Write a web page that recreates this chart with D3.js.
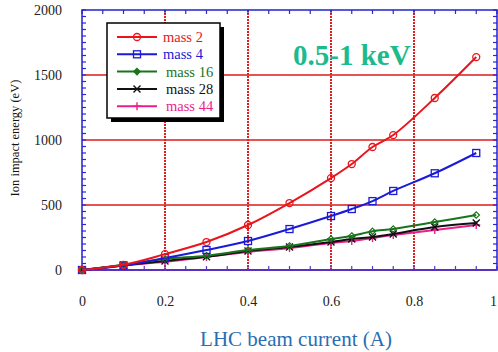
<!DOCTYPE html>
<html>
<head>
<meta charset="utf-8">
<script src="https://cdn.jsdelivr.net/npm/d3@7"></script>
<style>
  html, body { margin: 0; padding: 0; background: #fff; }
  svg { display: block; }
  text { font-family: "Liberation Serif", "Times New Roman", serif; }
</style>
</head>
<body>
<svg id="chart" width="498" height="352"></svg>
<script>
// Beam current (A) at which each impact energy was computed
const current = [0, 0.1, 0.2, 0.3, 0.4, 0.5, 0.6, 0.65, 0.7, 0.75, 0.85, 0.95];

// Ion impact energy (eV) per ion mass
const mass2  = [0, 40, 122, 215, 346, 515, 707, 815, 946, 1038, 1323, 1638];
const mass4  = [0, 35, 92, 154, 223, 315, 415, 469, 530, 608, 744, 900];
const mass16 = [0, 40, 85, 110, 154, 185, 238, 262, 298, 315, 369, 423];
const mass28 = [0, 36, 70, 102, 146, 177, 215, 238, 254, 277, 331, 362];
const mass44 = [0, 35, 63, 100, 138, 169, 208, 223, 246, 269, 308, 346];

const seriesNames = ["mass 2", "mass 4", "mass 16", "mass 28", "mass 44"];
const seriesValues = [mass2, mass4, mass16, mass28, mass44];
const seriesColors = ["#e8161c", "#1a1ad8", "#19741c", "#111111", "#ec1e8c"];
const seriesMarkers = ["circle", "square", "diamond", "cross", "plus"];

const xTicks = [0, 0.2, 0.4, 0.6, 0.8, 1];
const xTickLabels = ["0", "0.2", "0.4", "0.6", "0.8", "1"];
const yTicks = [0, 500, 1000, 1500, 2000];

const svg = d3.select("#chart");
const plot = { left: 82, right: 497, top: 10, bottom: 270 };

const x = d3.scaleLinear().domain([0, 1]).range([plot.left, plot.right]);
const y = d3.scaleLinear().domain([0, 2000]).range([plot.bottom, plot.top]);

// Horizontal grid (solid) and vertical grid (dense dashes)
svg.append("g").selectAll("line")
  .data(yTicks.filter(v => v > 0 && v < 2000))
  .join("line")
  .attr("x1", plot.left).attr("x2", plot.right)
  .attr("y1", d => y(d)).attr("y2", d => y(d))
  .attr("stroke", "#dd1a1a").attr("stroke-width", 1.4);

svg.append("g").selectAll("line")
  .data(xTicks.filter(v => v > 0 && v < 1))
  .join("line")
  .attr("x1", d => x(d)).attr("x2", d => x(d))
  .attr("y1", plot.top).attr("y2", plot.bottom)
  .attr("stroke", "#e02020").attr("stroke-width", 2)
  .attr("stroke-dasharray", "2,1");

// Minor ticks, pointing into the plot on all four sides
const xMinor = d3.range(0, 1.0001, 0.05);
const yMinor = d3.range(0, 2000.1, 50);
const tickLen = 4;
const ticks = svg.append("g").attr("stroke", "#2a2ad0").attr("stroke-width", 1.2);
xMinor.forEach(v => {
  ticks.append("line").attr("x1", x(v)).attr("x2", x(v))
    .attr("y1", plot.bottom).attr("y2", plot.bottom - tickLen).attr("stroke", "#5a34c4");
  ticks.append("line").attr("x1", x(v)).attr("x2", x(v))
    .attr("y1", plot.top).attr("y2", plot.top + tickLen);
});
yMinor.forEach(v => {
  ticks.append("line").attr("x1", plot.left).attr("x2", plot.left + tickLen)
    .attr("y1", y(v)).attr("y2", y(v));
  ticks.append("line").attr("x1", plot.right).attr("x2", plot.right - tickLen)
    .attr("y1", y(v)).attr("y2", y(v));
});

// Plot frame
svg.append("rect")
  .attr("x", plot.left).attr("y", plot.top)
  .attr("width", plot.right - plot.left).attr("height", plot.bottom - plot.top)
  .attr("fill", "none").attr("stroke", "#2222cc").attr("stroke-width", 1.5);
svg.append("line")
  .attr("x1", plot.left).attr("x2", plot.right)
  .attr("y1", plot.bottom).attr("y2", plot.bottom)
  .attr("stroke", "#5a30c2").attr("stroke-width", 2);

// Axes labels via d3 axes (lines hidden; frame drawn above)
const yAxis = svg.append("g")
  .attr("transform", `translate(${plot.left},0)`)
  .call(d3.axisLeft(y).tickValues(yTicks).tickSize(0).tickPadding(20).tickFormat(d3.format("d")));
yAxis.select(".domain").remove();
yAxis.selectAll("text")
  .attr("font-family", "Liberation Serif, serif").attr("font-size", 14)
  .attr("fill", "#222");

const xAxis = svg.append("g")
  .attr("transform", `translate(0,${plot.bottom})`)
  .call(d3.axisBottom(x).tickValues(xTicks).tickSize(0).tickPadding(26)
    .tickFormat((d, i) => xTickLabels[i]));
xAxis.select(".domain").remove();
xAxis.selectAll("text")
  .attr("font-family", "Liberation Serif, serif").attr("font-size", 14)
  .attr("fill", "#222");
// the last label sits at the page edge: keep it fully inside
xAxis.selectAll("text").filter(d => d === 1)
  .attr("text-anchor", "end").attr("dx", -0.5);

// Axis titles
svg.append("text")
  .attr("transform", "translate(19,138) rotate(-90)")
  .attr("text-anchor", "middle")
  .attr("font-size", 12.5).attr("fill", "#111")
  .text("Ion impact energy (eV)");

svg.append("text")
  .attr("x", 296).attr("y", 346)
  .attr("text-anchor", "middle")
  .attr("font-size", 21).attr("fill", "#2a6db3")
  .text("LHC beam current (A)");

// Series lines and markers
const line = d3.line()
  .x(d => x(d[0])).y(d => y(d[1]))
  .curve(d3.curveCatmullRom.alpha(0.5));

function drawMarker(g, type, color, cx, cy, legend) {
  if (type === "circle") {
    g.append("circle").attr("cx", cx).attr("cy", cy).attr("r", 3.5)
      .attr("fill", "none").attr("stroke", color).attr("stroke-width", 1.3);
  } else if (type === "square") {
    g.append("rect").attr("x", cx - 3.5).attr("y", cy - 3.5)
      .attr("width", 7).attr("height", 7)
      .attr("fill", "none").attr("stroke", color).attr("stroke-width", 1.3);
  } else if (type === "diamond") {
    const s = 3.2;
    g.append("path")
      .attr("d", `M${cx},${cy - s}L${cx + s},${cy}L${cx},${cy + s}L${cx - s},${cy}Z`)
      .attr("fill", legend ? color : "none").attr("stroke", color).attr("stroke-width", 1.2);
  } else if (type === "cross") {
    const s = 3.5;
    g.append("path")
      .attr("d", `M${cx - s},${cy - s}L${cx + s},${cy + s}M${cx - s},${cy + s}L${cx + s},${cy - s}`)
      .attr("stroke", color).attr("stroke-width", 1.4);
  } else if (type === "plus") {
    const s = 4;
    g.append("path")
      .attr("d", `M${cx - s},${cy}L${cx + s},${cy}M${cx},${cy - s}L${cx},${cy + s}`)
      .attr("stroke", color).attr("stroke-width", 1.4);
  }
}

const seriesG = svg.append("g");
// draw in reverse so the lighter masses end on the bottom layer
seriesValues.map((vals, i) => i).reverse().forEach(i => {
  const vals = seriesValues[i];
  const pts = current.map((c, j) => [c, vals[j]]);
  const g = seriesG.append("g");
  g.append("path").attr("d", line(pts))
    .attr("fill", "none").attr("stroke", seriesColors[i]).attr("stroke-width", 2);
  pts.forEach(p => drawMarker(g, seriesMarkers[i], seriesColors[i], x(p[0]), y(p[1]), false));
});

// Legend box with drop shadow
const lg = svg.append("g");
const box = { x: 107, y: 23, w: 113, h: 95 };
lg.append("rect").attr("x", box.x + 4).attr("y", box.y + 4)
  .attr("width", box.w).attr("height", box.h).attr("fill", "#000");
lg.append("rect").attr("x", box.x).attr("y", box.y)
  .attr("width", box.w).attr("height", box.h)
  .attr("fill", "#fff").attr("stroke", "#000").attr("stroke-width", 1.5);
seriesNames.forEach((name, i) => {
  const cy = 37 + i * 17.3;
  lg.append("line").attr("x1", 117).attr("x2", 157)
    .attr("y1", cy).attr("y2", cy)
    .attr("stroke", seriesColors[i]).attr("stroke-width", 2);
  drawMarker(lg, seriesMarkers[i], seriesColors[i], 137, cy, true);
  lg.append("text").attr("x", i === 0 || i === 1 ? 163 : 166).attr("y", cy + 5)
    .attr("font-size", 14.5).attr("fill", seriesColors[i])
    .text(name);
});

// Energy range annotation
svg.append("text")
  .attr("x", 293).attr("y", 65)
  .attr("font-size", 29).attr("font-weight", "bold")
  .attr("fill", "#1dba8c")
  .text("0.5-1 keV");
</script>
</body>
</html>
